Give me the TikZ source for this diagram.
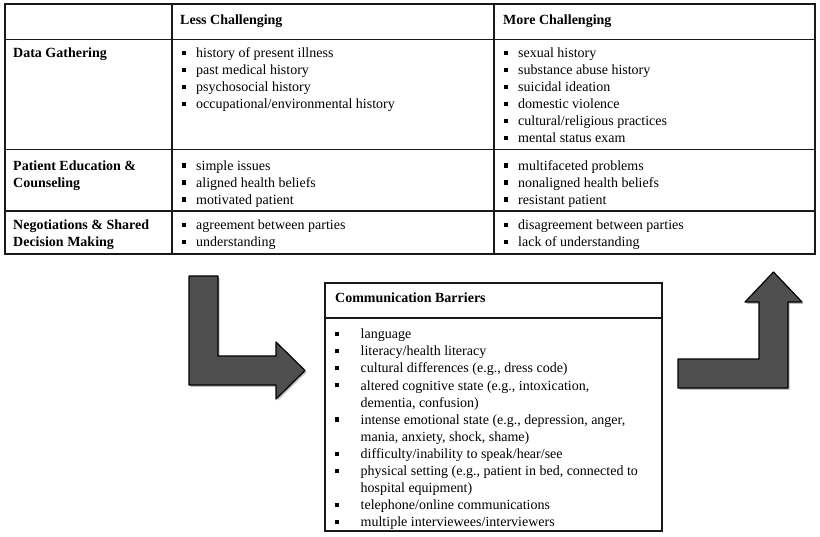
\documentclass[tikz,border=0pt]{standalone}
\usepackage{fontspec}
\setmainfont{Liberation Serif}
\newcommand\tbul{\strut\makebox[14.5pt][l]{\rule[2.6pt]{4.3pt}{4.3pt}}}
\newcommand\cbul{\strut\makebox[26pt][l]{\rule[2.6pt]{4.3pt}{4.3pt}}}
\newcommand\cind{\hspace*{26pt}}
\tikzset{
  txt/.style={anchor=north west, inner sep=0pt, align=left, font=\fontsize{14}{17}\selectfont},
  hdr/.style={txt, font=\fontsize{14}{17}\selectfont\bfseries},
  ctxt/.style={txt, font=\fontsize{14}{17.1}\selectfont},
  rule/.style={line width=1.4pt, draw=black!90},
  cbox/.style={line width=1.2pt, draw=black!90},
  bigarrow/.style={fill=black!69, draw=black, line width=1.2pt, line join=round},
  arrowshadow/.style={fill=black!25, draw=none}
}
\begin{document}
\begin{tikzpicture}[x=1pt,y=-1pt]
\useasboundingbox (0,0) rectangle (820,536);
\fill[white] (0,0) rectangle (820,536);

% table frame
\draw[rule] (5,4) rectangle (815,254);
\draw[rule] (5,39.5) -- (815,39.5);
\draw[rule] (5,149.5) -- (815,149.5);
\draw[rule] (5,211) -- (815,211);
\draw[rule] (172,4) -- (172,254);
\draw[rule] (494,4) -- (494,254);

% headers (baseline = north + 11.9)
\node[hdr] (hless) at (180,12.1) {\strut Less Challenging};
\node[hdr] (hmore) at (503,12.1) {\strut More Challenging};

% row labels
\node[hdr] (rdata) at (13,45.4) {\strut Data Gathering};
\node[hdr] (rpat) at (13,158) {\strut Patient Education \&\\Counseling};
\node[hdr] (rneg) at (13,217.6) {\strut Negotiations \& Shared\\Decision Making};

% cells
\node[txt] (c11) at (181.5,45.4) {\tbul history of present illness\\\tbul past medical history\\\tbul psychosocial history\\\tbul occupational/environmental history};
\node[txt] (c12) at (503.5,45.4) {\tbul sexual history\\\tbul substance abuse history\\\tbul suicidal ideation\\\tbul domestic violence\\\tbul cultural/religious practices\\\tbul mental status exam};
\node[txt] (c21) at (181.5,158) {\tbul simple issues\\\tbul aligned health beliefs\\\tbul motivated patient};
\node[txt] (c22) at (503.5,158) {\tbul multifaceted problems\\\tbul nonaligned health beliefs\\\tbul resistant patient};
\node[txt] (c31) at (181.5,217.6) {\tbul agreement between parties\\\tbul understanding};
\node[txt] (c32) at (503.5,217.6) {\tbul disagreement between parties\\\tbul lack of understanding};

% communication barriers box
\draw[cbox] (325,283) rectangle (662,531);
\draw[cbox] (325,318) -- (662,318);
\node[hdr] (cbhead) at (335,290.1) {\strut Communication Barriers};
\node[ctxt] (cblist) at (334.5,326.6) {\cbul language\\
\cbul literacy/health literacy\\
\cbul cultural differences (e.g., dress code)\\
\cbul altered cognitive state (e.g., intoxication,\\
\cind dementia, confusion)\\
\cbul intense emotional state (e.g., depression, anger,\\
\cind mania, anxiety, shock, shame)\\
\cbul difficulty/inability to speak/hear/see\\
\cbul physical setting (e.g., patient in bed, connected to\\
\cind hospital equipment)\\
\cbul telephone/online communications\\
\cbul multiple interviewees/interviewers};

% left bent arrow
\begin{scope}[shift={(1.5,1.8)}]
\fill[arrowshadow] (189,276) -- (218,276) -- (218,356) -- (276,356) -- (276,342) -- (305,370.5) -- (276,399) -- (276,385) -- (189,385) -- cycle;
\end{scope}
\draw[bigarrow] (189,276) -- (218,276) -- (218,356) -- (276,356) -- (276,342) -- (305,370.5) -- (276,399) -- (276,385) -- (189,385) -- cycle;

% right bent arrow
\begin{scope}[shift={(1.5,1.8)}]
\fill[arrowshadow] (678,388) -- (678,359) -- (759,359) -- (759,302) -- (745,302) -- (773.5,272) -- (802,302) -- (788,302) -- (788,388) -- cycle;
\end{scope}
\draw[bigarrow] (678,388) -- (678,359) -- (759,359) -- (759,302) -- (745,302) -- (773.5,272) -- (802,302) -- (788,302) -- (788,388) -- cycle;
\end{tikzpicture}
\end{document}
